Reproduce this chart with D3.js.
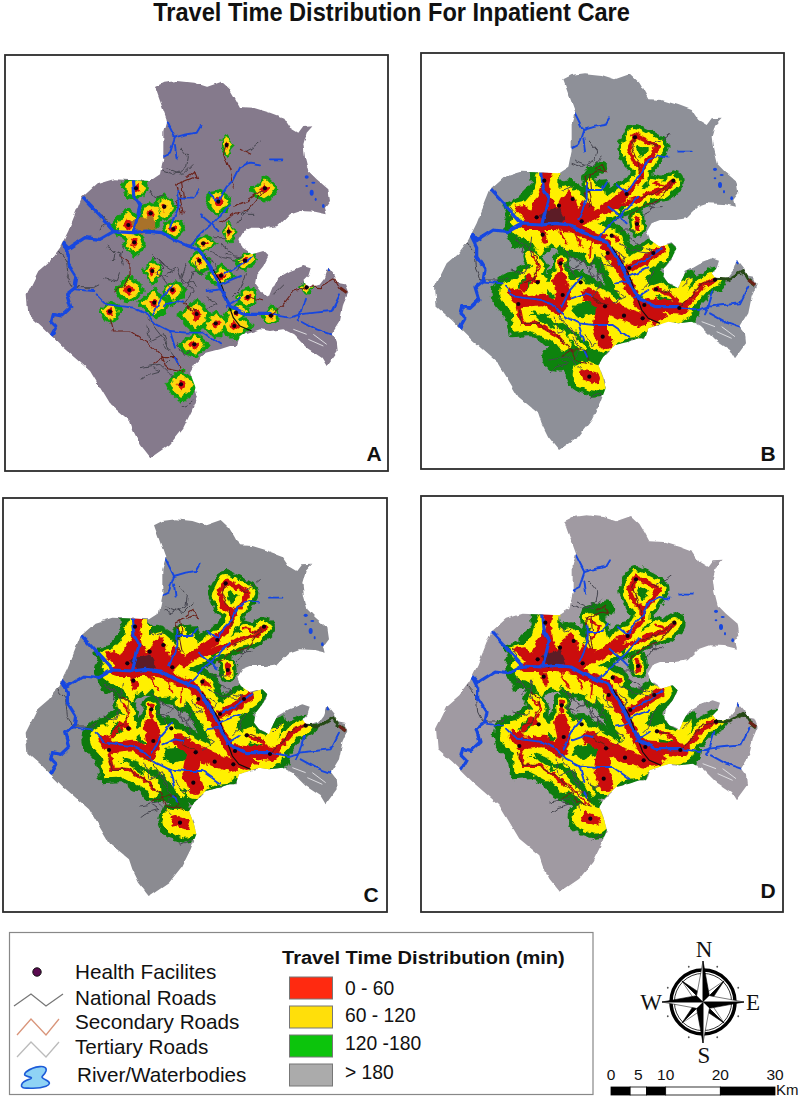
<!DOCTYPE html>
<html><head><meta charset="utf-8">
<script src="https://cdn.jsdelivr.net/npm/d3@7"></script>
<style>html,body{margin:0;background:#fff}svg{display:block}text{font-family:"Liberation Sans",Arial,sans-serif;fill:#111}</style>
</head><body><svg id="c" width="800" height="1097"></svg>
<script>
// ---------- map data: map units (1 unit = 1/3 px) ----------
const boundary=[[445,88],[470,75],[510,70],[560,75],[600,88],[645,72],[670,95],[685,120],[700,148],[740,150],[790,165],[830,180],[850,210],[875,225],[890,205],[920,203],[900,225],[890,260],[895,300],[905,340],[930,365],[965,395],[970,430],[955,450],[960,470],[925,462],[880,460],[850,470],[815,505],[780,510],[735,510],[710,520],[695,545],[705,570],[735,590],[770,580],[785,595],[770,625],[750,650],[745,680],[760,700],[790,715],[800,690],[815,660],[850,640],[890,625],[912,632],[905,655],[890,670],[905,690],[940,680],[955,660],[965,630],[985,655],[990,675],[1015,680],[1025,705],[1010,740],[1000,790],[975,830],[990,850],[993,880],[960,925],[945,900],[900,870],[860,830],[830,815],[790,820],[760,815],[700,835],[690,865],[670,865],[640,875],[600,885],[565,920],[550,945],[565,985],[572,1015],[555,1060],[530,1110],[490,1160],[432,1200],[400,1160],[380,1120],[370,1090],[310,1040],[250,940],[170,870],[110,810],[65,770],[60,710],[95,640],[130,610],[160,570],[185,520],[225,420],[270,380],[320,365],[430,370],[460,350],[470,300],[470,220],[480,185],[460,130]];
const riversThick=[
 [[165,550],[185,572],[235,540],[280,545],[320,522],[380,525],[420,520],[465,525],[510,550],[545,565],[575,575],[610,630],[640,690],[670,745],[720,770],[790,770]],
 [[228,420],[270,465],[320,520]],
 [[380,365],[385,420],[400,445],[380,525]],
 [[165,550],[185,590],[185,620],[210,660],[205,690],[180,710],[192,750],[165,775],[140,770],[135,790],[150,805],[130,840]]];
const riversThin=[
 [[205,695],[260,700]],
 [[270,710],[300,740],[380,750],[420,770],[450,800],[490,820],[540,825],[590,825],[640,860]],
 [[480,190],[505,240],[490,285],[470,295]],[[505,240],[540,230],[570,225],[582,205]],[[505,265],[510,305]],
 [[515,400],[515,450],[490,510]],[[515,420],[560,420],[575,395]],
 [[605,405],[635,430],[660,390],[680,370],[700,330],[730,315],[760,320]],
 [[670,440],[625,490],[590,520],[545,565]],[[580,470],[610,495],[635,520]],
 [[790,305],[830,305]],
 [[740,595],[700,625],[650,650]],[[640,680],[700,655]],
 [[500,680],[465,720],[440,770]],[[470,745],[510,730],[530,735]],
 [[962,630],[968,640]],
 [[790,770],[850,780],[880,770],[870,790]],[[880,770],[895,720]],[[880,770],[925,765],[975,760],[1000,710]],[[885,790],[930,815],[975,830]],
 [[660,745],[700,720]],[[600,700],[640,695]],[[490,820],[505,870]],[[505,900],[515,920]]];
const lakes=[[900,358,6,5],[920,375,6,3],[900,385,4,3],[915,405,6,9],[927,425,3,5],[950,445,4,6]];
const tertiaryRoads=[
 [[520,270],[545,300],[540,330],[500,350],[470,340]],[[765,250],[740,270],[720,280]],
 [[155,580],[180,610],[185,660],[200,690],[260,690],[280,680]],[[280,520],[300,490],[285,470]],
 [[300,560],[325,590],[320,610]],[[610,580],[650,600],[700,610]],[[640,560],[680,590]],
 [[480,650],[510,630],[530,680],[560,670],[570,690]],[[405,965],[425,950],[460,940],[440,930]],[[525,1045],[560,1030]],
 [[700,470],[730,450],[690,500]],[[620,540],[660,540]],[[440,590],[470,620],[500,640]],
 [[430,400],[445,420],[470,410]],[[560,610],[590,650],[560,640]],[[460,650],[490,690]],
 [[420,780],[460,830],[480,860]],[[510,850],[530,890],[550,880]],[[720,650],[700,700],[680,720]],[[800,710],[830,680]],
 [[450,600],[470,630],[450,650],[490,660]],[[540,620],[525,660],[560,700],[530,740]],[[600,600],[630,620],[620,650]],[[290,660],[330,670],[340,640]],[[660,590],[710,600],[690,640]],[[420,800],[430,850],[470,830],[490,880]],[[400,930],[460,920],[500,960]],[[700,470],[740,470]],[[300,570],[340,590],[350,620]],[[350,560],[345,600]],[[560,640],[540,700]],[[480,330],[530,350],[560,320]],[[600,720],[630,740],[590,760]],[[470,860],[500,900],[480,920]]];
const secondaryRoads=[
 [[540,360],[565,340],[575,365],[560,360],[510,380],[520,420],[530,470]],
 [[660,255],[650,290],[670,340],[680,390]],[[700,275],[730,290]],[[770,395],[720,430],[680,445]],
 [[345,600],[370,620],[370,650],[350,690],[320,700]],
 [[310,780],[320,820],[370,820],[430,860],[470,900],[510,900],[520,930]],[[440,920],[470,900],[480,930],[530,940]],
 [[795,770],[830,740],[860,700],[900,690]],
 [[720,715],[770,730]],[[530,740],[580,770]],[[640,500],[680,470],[730,450],[770,400]],[[525,375],[530,420],[510,430],[525,470]]];
const darkEastRoad=[[900,688],[940,690],[985,665],[1000,690],[1020,705]];
const blackRoad=[[590,590],[640,670],[680,780],[700,805],[735,820]];
const whiteTracks=[[[860,815],[900,830]],[[920,830],[960,860]],[[905,845],[950,865]]];
const denseCity=[[378,495],[430,478],[445,510],[400,522]];
const facilities=[[388,392],[432,467],[473,447],[365,502],[383,554],[500,514],[590,557],[635,432],[660,262],[775,392],[666,522],[715,609],[643,654],[437,640],[368,697],[443,735],[497,697],[310,762],[570,769],[627,797],[683,805],[688,765],[723,718],[793,774],[563,860],[900,689],[523,980],[578,609]];
// green reach of panel A around each facility: E,SE,S,SW,W,NW,N,NE
const reachA=[[32,28,30,32,38,35,28,34],[30,35,50,35,30,28,30,30],[30,30,38,25,25,28,30,25],[38,35,45,38,45,35,45,35],[28,30,38,25,30,25,30,30],[30,22,28,25,30,25,22,28],[38,20,20,22,26,18,20,25],[35,30,40,28,32,35,30,30],[20,15,30,15,14,18,27,15],[38,30,35,35,38,20,35,25],[22,22,33,15,16,14,30,14],[32,20,28,25,26,15,22,30],[38,20,24,28,42,22,28,25],[26,28,36,20,26,22,30,22],[38,30,30,35,36,30,38,30],[42,35,42,30,42,28,40,25],[36,30,40,25,25,22,22,28],[30,28,30,25,30,20,28,28],[40,35,55,40,50,30,40,30],[35,30,40,28,35,25,32,25],[48,30,35,30,30,35,50,30],[35,20,20,25,28,20,26,30],[22,25,28,28,32,22,25,28],[22,20,22,22,26,18,28,25],[38,30,32,35,42,25,32,25],[22,15,22,12,22,14,14,18],[45,38,48,35,38,30,38,30],[30,35,36,22,28,22,28,20]];
// shared travel-time areas of panels B, C, D
const greenAreas=[
 [[350,365],[420,360],[430,400],[465,395],[510,425],[510,400],[570,395],[585,440],[565,480],[555,520],[590,520],[620,540],[640,570],[620,600],[600,600],[620,660],[650,730],[600,700],[570,660],[530,630],[500,620],[450,610],[430,590],[400,590],[380,610],[340,610],[325,575],[300,590],[285,560],[300,530],[270,470],[310,450],[340,420],[355,400]],
 [[262,720],[290,680],[320,650],[380,635],[395,680],[418,670],[418,625],[450,622],[456,672],[500,670],[530,690],[535,725],[585,735],[620,755],[610,700],[590,670],[575,640],[600,640],[640,650],[700,620],[740,575],[770,580],[750,620],[730,660],[760,695],[790,715],[810,680],[830,665],[840,690],[860,680],[900,670],[915,690],[880,720],[840,760],[810,780],[835,815],[760,815],[700,835],[680,860],[640,870],[600,885],[560,900],[470,890],[430,885],[390,880],[350,850],[290,855],[285,820],[265,770]]];
const yellowAreas=[
 [[372,372],[425,368],[425,420],[465,410],[500,440],[510,470],[520,430],[565,420],[570,450],[545,490],[540,525],[575,535],[605,555],[605,590],[590,600],[560,600],[530,605],[500,600],[470,600],[440,570],[420,590],[395,570],[375,610],[360,580],[330,560],[310,530],[285,470],[330,460],[355,430]],
 [[278,725],[300,695],[330,665],[370,655],[378,700],[405,700],[420,720],[430,700],[425,640],[445,640],[445,695],[500,690],[520,715],[505,738],[590,750],[630,780],[615,720],[595,665],[610,655],[645,665],[690,640],[700,670],[680,700],[740,700],[775,735],[800,700],[825,690],[800,770],[810,800],[790,815],[700,825],[670,855],[630,860],[595,880],[540,880],[500,860],[470,830],[440,810],[420,790],[380,770],[320,785],[330,810],[380,810],[420,850],[390,860],[340,835],[300,840],[295,790]]];
const greenPatches=[[[485,760],[540,755],[550,785],[500,800],[470,785]],[[350,785],[400,800],[415,835],[370,805]],[[395,720],[420,740],[400,745]],[[335,680],[350,700],[320,725],[310,712]],[[730,740],[770,750],[745,765]],[[695,680],[730,665],[745,690],[700,705]],[[660,725],[680,735],[670,760]],[[610,470],[640,460],[620,485]]];
const redAreas=[
 [[378,365],[412,365],[402,405],[408,440],[425,470],[440,440],[465,420],[480,445],[490,480],[505,450],[520,465],[540,470],[528,500],[510,520],[500,530],[470,520],[420,522],[380,530],[340,520],[310,490],[295,470],[330,465],[345,480],[360,450],[375,430],[385,400]],
 [[580,590],[600,640],[570,620]],[[690,790],[730,780],[760,800],[730,815],[700,815]]];
// corridors: one row of reach per path
const corridorReach=[[66,42,14],[68,42,14],[85,55,28],[125,80,30],[100,64,26],[110,70,40],[70,42,14],[62,34,14],[52,32,15],[52,28,15],[110,80,30],[130,85,34],[78,44,10],[80,55,14],[85,60,42],[105,70,40],[100,68,44],[66,40,12],[48,28,7],[66,44,18],[60,34,6],[60,36,6],[56,30,5],[56,34,6]];
const corridorPaths=[
 [[635,430],[660,405],[680,380],[680,350],[658,335],[640,295],[660,255],[700,275],[728,290],[700,335],[680,355]],
 [[775,395],[745,420],[700,430],[665,450],[620,465],[585,480]],
 [[635,430],[600,455],[565,480],[530,500]],
 [[330,525],[420,525],[470,530],[510,550],[560,570],[590,610],[620,660],[650,720],[680,770],[720,810]],
 [[645,655],[690,630],[735,600]],
 [[690,765],[760,770],[800,775]],
 [[800,775],[830,745],[865,705],[900,688]],
 [[592,556],[610,570]],
 [[665,505],[668,535]],
 [[437,630],[437,660]],
 [[510,975],[540,985]],
 [[295,730],[320,755],[385,748],[430,775]],
 [[310,770],[320,820],[370,820],[430,860],[445,880]],
 [[368,697],[345,680],[320,720]],
 [[435,690],[445,735],[430,775]],
 [[520,735],[570,765],[620,790],[680,810]],
 [[565,780],[555,830],[570,875]],
 [[723,718],[770,735],[790,765]],
 [[715,398],[760,410]],
 [[375,530],[390,572]],
 [[430,535],[458,585]],
 [[480,540],[500,590]],
 [[530,565],[525,620]],
 [[350,620],[372,650],[350,700]]];
// per-panel southern tail and northern arm: green, yellow, red reach + path
const tailB=[[80,0,0,[[420,925],[470,905],[530,905],[525,950],[480,945]]],[34,0,0,[[515,385],[530,365],[562,350]]],[44,24,0,[[525,400],[545,420],[530,460]]],[40,18,0,[[470,860],[505,895]]],[40,18,0,[[520,850],[535,890]]]];
const tailC=[[50,0,0,[[430,860],[470,890],[510,900],[525,935]]],[36,16,0,[[530,400],[540,430]]],[24,12,0,[[500,860],[530,900]]]];
const tailD=[[66,0,0,[[430,890],[480,910],[520,935]]],[44,20,5,[[430,860],[470,890],[520,940]]],[62,38,8,[[520,380],[550,405],[530,440]]],[50,0,0,[[520,365],[570,350]]],[36,18,0,[[500,860],[530,905]]]];
// ---------- legend and furniture ----------
const title="Travel Time Distribution For Inpatient Care";
const panelNames=["A","B","C","D"];
const lineLabels=["Health Facilites","National Roads","Secondary Roads","Tertiary Roads","River/Waterbodies"];
const bandLabels=["0 - 60","60 - 120","120 -180","> 180"];
const scaleTicks=[0,5,10,20,30];
const scaleBreaks=[0,3.5,6.5,10,20,30];
const compassLetters=["N","E","S","W"];

const svg=d3.select("#c");
const defs=svg.append("defs");
const mk=(id,f,s,seed)=>{const j=defs.append("filter").attr("id",id).attr("filterUnits","userSpaceOnUse").attr("x",0).attr("y",0).attr("width",800).attr("height",1097);
 j.append("feTurbulence").attr("type","fractalNoise").attr("baseFrequency",f).attr("numOctaves",2).attr("seed",seed).attr("result","n");
 j.append("feDisplacementMap").attr("in","SourceGraphic").attr("in2","n").attr("scale",s).attr("xChannelSelector","R").attr("yChannelSelector","G");};
mk("jag",0.16,7,4); mk("wig",0.12,6,9); mk("wigS",0.1,4,2);
const soft=defs.append("filter").attr("id","soft").attr("filterUnits","userSpaceOnUse").attr("x",0).attr("y",0).attr("width",800).attr("height",1097);
soft.append("feGaussianBlur").attr("stdDeviation",0.45);

const panels=[
 {n:0,ox:20/3,oy:50+23/3,frame:[5,55,383,416],base:"#857a8c",red:"#d8100c",yellow:"#ffd60a",green:"#0fa010",lx:374,ly:461,tail:[],city:"#a8722c"},
 {n:1,ox:415,oy:50,frame:[421,53,363,416],base:"#8e9098",red:"#c90f10",yellow:"#fff000",green:"#118310",lx:768,ly:461,tail:tailB,city:"#5c1f28"},
 {n:2,ox:17/3,oy:490+18/3,frame:[3,498,384,414],base:"#8b8b91",red:"#cb1010",yellow:"#fff000",green:"#0c7a0c",lx:371,ly:902,tail:tailC,city:"#5c1f28"},
 {n:3,ox:415+3/3,oy:490+6/3,frame:[421,496,362,416],base:"#a09aa2",red:"#cb1010",yellow:"#fff000",green:"#0f7d10",lx:768,ly:898,tail:tailD,city:"#5c1f28"}];

const titleEl=svg.append("text").attr("font-size",26.5).attr("font-weight","bold").attr("text-anchor","middle").text(title);
const titleW=titleEl.node().getComputedTextLength();
titleEl.attr("transform",`translate(391.5,21) scale(${477/titleW},1)`);

panels.forEach((p,pi)=>{
 const x=d3.scaleLinear().domain([0,1155]).range([p.ox,p.ox+385]);
 const y=d3.scaleLinear().domain([0,1290]).range([p.oy,p.oy+430]);
 const k=x(1)-x(0);
 const line=d3.line().x(d=>x(d[0])).y(d=>y(d[1]));
 const closed=d3.line().x(d=>x(d[0])).y(d=>y(d[1])).curve(d3.curveLinearClosed);
 defs.append("clipPath").attr("id","clip"+pi).append("path").attr("d",closed(boundary));
 svg.append("rect").attr("x",p.frame[0]).attr("y",p.frame[1]).attr("width",p.frame[2]).attr("height",p.frame[3]).attr("fill","#fff").attr("stroke","#2c2c2c").attr("stroke-width",1.8);
 const g=svg.append("g").attr("filter","url(#soft)");
 g.append("path").attr("d",closed(boundary)).attr("fill",p.base).attr("filter","url(#wigS)");
 const bands=g.append("g").attr("clip-path",`url(#clip${pi})`).append("g").attr("filter","url(#jag)");
 const stroke=(pts,w,c)=>{if(w>0)bands.append("path").attr("d",line(pts)).attr("fill","none").attr("stroke",c).attr("stroke-width",w*k).attr("stroke-linecap","round").attr("stroke-linejoin","round");};
 const fill=(pts,c,grow)=>bands.append("path").attr("d",closed(pts)).attr("fill",c).attr("stroke",c).attr("stroke-width",(grow||0)*k).attr("stroke-linejoin","round");
 if(pi===0){
  const blob=(f,r,m)=>{const dirs=d3.range(8).map(i=>i*Math.PI/4);
    return r.map((v,i)=>[f[0]+Math.cos(dirs[i])*v*m,f[1]+Math.sin(dirs[i])*v*m]);};
  [[1.22,p.green],[0.86,p.yellow],[0.38,p.red]].forEach(([m,c])=>facilities.forEach((f,i)=>fill(blob(f,reachA[i],m),c)));
 } else {
  p.tail.forEach(t=>stroke(t[3],t[0],p.green));
  greenAreas.forEach(a=>fill(a,p.green,14));
  corridorPaths.forEach((c,i)=>stroke(c,corridorReach[i][0],p.green));
  yellowAreas.forEach(a=>fill(a,p.yellow,10));
  corridorPaths.forEach((c,i)=>stroke(c,corridorReach[i][1],p.yellow));
  p.tail.forEach(t=>stroke(t[3],t[1],p.yellow));
  greenPatches.forEach(a=>fill(a,p.green,4));
  redAreas.forEach(a=>fill(a,p.red));
  corridorPaths.forEach((c,i)=>stroke(c,corridorReach[i][2],p.red));
  p.tail.forEach(t=>stroke(t[3],t[2],p.red));
 }
 bands.append("path").attr("d",closed(denseCity)).attr("fill",p.city).attr("stroke",p.city).attr("stroke-width",3);
 // roads + rivers
 whiteTracks.forEach(s=>g.append("path").attr("d",line(s)).attr("fill","none").attr("stroke","#e4e4e8").attr("stroke-width",0.9));
 const roadsG=g.append("g").attr("filter","url(#wig)");
 tertiaryRoads.forEach(s=>roadsG.append("path").attr("d",line(s)).attr("fill","none").attr("stroke","#45454e").attr("stroke-width",1));
 secondaryRoads.forEach(s=>roadsG.append("path").attr("d",line(s)).attr("fill","none").attr("stroke","#6b2018").attr("stroke-width",1.1));
 roadsG.append("path").attr("d",line(darkEastRoad)).attr("fill","none").attr("stroke",pi===0?"#6b2018":"#274a14").attr("stroke-width",pi===0?1.1:3);
 g.append("path").attr("d",line(darkEastRoad.slice(3))).attr("fill","none").attr("stroke","#6b2018").attr("stroke-width",3);
 g.append("path").attr("d",line(blackRoad)).attr("fill","none").attr("stroke","#111").attr("stroke-width",1.2);
 const riverG=g.append("g").attr("filter","url(#wigS)").attr("clip-path",`url(#clip${pi})`);
 riversThick.forEach(s=>riverG.append("path").attr("d",line(s)).attr("fill","none").attr("stroke","#1546e0").attr("stroke-width",3.2).attr("stroke-linejoin","round").attr("stroke-linecap","round"));
 riversThin.forEach(s=>riverG.append("path").attr("d",line(s)).attr("fill","none").attr("stroke","#1546e0").attr("stroke-width",1.9).attr("stroke-linejoin","round").attr("stroke-linecap","round"));
 g.selectAll(".lake").data(lakes).join("ellipse").attr("cx",d=>x(d[0])).attr("cy",d=>y(d[1])).attr("rx",d=>d[2]*k).attr("ry",d=>d[3]*k).attr("fill","#1546e0");
 g.selectAll(".fac").data(facilities).join("circle").attr("cx",d=>x(d[0])).attr("cy",d=>y(d[1])).attr("r",2.1).attr("fill","#0b0010");
 svg.append("text").attr("x",p.lx).attr("y",p.ly).attr("text-anchor","middle").attr("font-size",21).attr("font-weight","bold").text(panelNames[pi]);
});

// ---------- legend ----------
const lg=svg.append("g");
lg.append("rect").attr("x",9.5).attr("y",932.5).attr("width",583.5).attr("height",162).attr("fill","#fff").attr("stroke","#888").attr("stroke-width",1.2);
const labelY=[979,1005,1029,1054,1082], labelX=[75,75,75,75,77];
lineLabels.forEach((t,i)=>lg.append("text").attr("x",labelX[i]).attr("y",labelY[i]).attr("font-size",20.7).text(t));
lg.append("circle").attr("cx",37).attr("cy",972).attr("r",4.2).attr("fill","#5a0a50").attr("stroke","#111");
const sample=d3.line();
[[[[14,1006],[31,994],[46,1006],[63,994]],"#777"],[[[17,1035],[31,1019],[46,1035],[59,1019]],"#d9957a"],[[[17,1057],[31,1042],[46,1057],[59,1042]],"#bbb"]].forEach(([pts,c])=>lg.append("path").attr("d",sample(pts)).attr("fill","none").attr("stroke",c).attr("stroke-width",1.3));
lg.append("path").attr("d","M26,1072C34,1066 48,1064 46,1071C44,1077 38,1076 46,1080C56,1085 42,1089 28,1088C18,1089 20,1082 30,1079C36,1076 20,1078 26,1072Z").attr("fill","#8fd3f5").attr("stroke","#1c5bd8").attr("stroke-width",1.6);
const legTitle=lg.append("text").attr("font-size",19).attr("font-weight","bold").text("Travel Time Distribution (min)");
legTitle.attr("transform",`translate(282,964) scale(${283/legTitle.node().getComputedTextLength()},1)`);
const swatchFill=["#ff2a10","#ffdf0a","#0cc40c","#ababab"], swatchY=[977,1006,1035,1064], swatchLabelY=[995,1022,1050,1079];
bandLabels.forEach((t,i)=>{
 lg.append("rect").attr("x",289.5).attr("y",swatchY[i]).attr("width",43).attr("height",22).attr("fill",swatchFill[i]).attr("stroke","#777");
 lg.append("text").attr("x",345).attr("y",swatchLabelY[i]).attr("font-size",19.3).text(t);
});
// ---------- compass ----------
const cp=svg.append("g").attr("transform","translate(703,1002)");
const longDeg=[0,90,180,270], diagDeg=[45,135,225,315], dotDeg=[22,68,112,158,202,248,292,338];
const pol=(deg,r)=>[Math.sin(deg*Math.PI/180)*r,-Math.cos(deg*Math.PI/180)*r];
cp.append("circle").attr("r",32).attr("fill","none").attr("stroke","#000").attr("stroke-width",3.5);
cp.append("circle").attr("r",28.6).attr("fill","none").attr("stroke","#000").attr("stroke-width",0.8);
dotDeg.forEach(d=>{const q=pol(d,38);cp.append("circle").attr("cx",q[0]).attr("cy",q[1]).attr("r",0.9).attr("fill","#555");});
const arm=(deg,len,b)=>{const t=pol(deg,len),l=pol(deg-45,b),r=pol(deg+45,b);
 cp.append("path").attr("d",d3.line()([[0,0],t,l])).attr("fill","#fff").attr("stroke","#222").attr("stroke-width",0.6);
 cp.append("path").attr("d",d3.line()([[0,0],t,r])).attr("fill","#000").attr("stroke","#000").attr("stroke-width",0.6);};
diagDeg.forEach(d=>arm(d,30,7));
longDeg.forEach(d=>arm(d,41,9));
const letterPos=[[1,-45],[50,8],[1,61],[-52,8]];
compassLetters.forEach((t,i)=>cp.append("text").attr("x",letterPos[i][0]).attr("y",letterPos[i][1]).attr("text-anchor","middle").attr("font-size",23).style("font-family","'Liberation Serif',serif").text(t));
// ---------- scale bar ----------
const sb=svg.append("g");
const sx=d3.scaleLinear().domain([0,30]).range([611,775]);
d3.pairs(scaleBreaks).forEach(([a,b],i)=>sb.append("rect").attr("x",sx(a)).attr("y",1087).attr("width",sx(b)-sx(a)).attr("height",8).attr("fill",i%2?"#fff":"#000").attr("stroke","#000").attr("stroke-width",0.8));
scaleTicks.forEach(t=>sb.append("text").attr("x",sx(t)).attr("y",1080).attr("text-anchor","middle").attr("font-size",15.5).text(t));
sb.append("text").attr("x",776).attr("y",1095).attr("font-size",15).text("Km");
</script></body></html>
